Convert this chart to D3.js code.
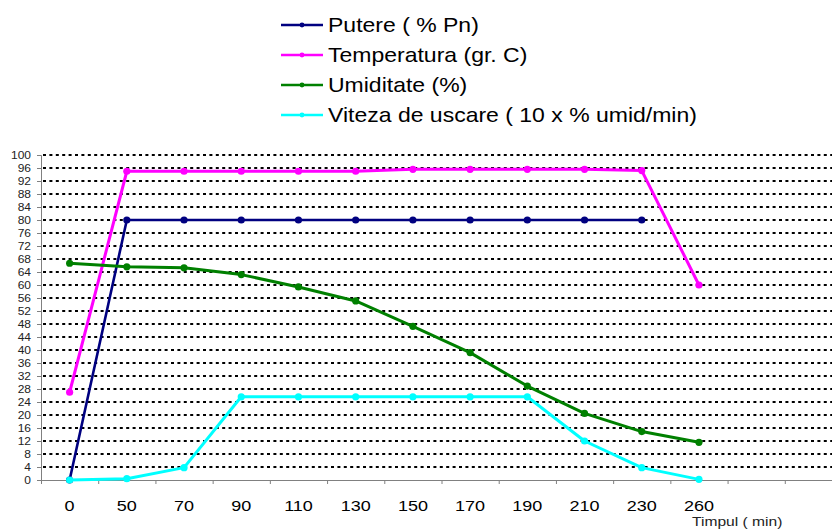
<!DOCTYPE html>
<html>
<head>
<meta charset="utf-8">
<script src="https://cdn.jsdelivr.net/npm/d3@7"></script>
<style>
  html, body { margin: 0; padding: 0; background: #fff; }
  svg { display: block; font-family: "Liberation Sans", Arial, sans-serif; }
</style>
</head>
<body>
<svg id="chart" width="832" height="529"></svg>
<script>
// Drying process: time (min) on the category axis
const categories = ["0", "50", "70", "90", "110", "130", "150", "170", "190", "210", "230", "260"];
const emptySlots = 2; // the axis continues with two unlabelled categories

const putere      = [0, 80, 80, 80, 80, 80, 80, 80, 80, 80, 80, null];
const temperatura = [27, 95, 95, 95, 95, 95, 95.6, 95.6, 95.6, 95.6, 95.2, 60];
const umiditate   = [66.7, 65.6, 65.3, 63.2, 59.4, 55.1, 47.3, 39.2, 28.9, 20.5, 14.9, 11.6];
const viteza      = [0, 0.4, 3.8, 25.6, 25.6, 25.6, 25.6, 25.6, 25.6, 12, 3.8, 0.2];

const seriesNames  = ["Putere ( % Pn)", "Temperatura (gr. C)", "Umiditate (%)", "Viteza de uscare ( 10 x % umid/min)"];
const seriesColors = ["#000080", "#ff00ff", "#008000", "#00ffff"];

const yTicks = d3.range(0, 101, 4);
const xTitle = "Timpul ( min)";

const svg = d3.select("#chart");
const W = 832;

const plotLeft = 41, plotRight = 842, plotTop = 155, plotBottom = 480;
const nSlots = categories.length + emptySlots;

const x = d3.scaleBand().domain(d3.range(nSlots)).range([plotLeft, plotRight]).padding(0);
const xEdge = d3.scaleLinear().domain([0, nSlots]).range([plotLeft, plotRight]);
const y = d3.scaleLinear().domain([0, 100]).range([plotBottom, plotTop]);

// dotted horizontal gridlines
svg.append("g")
  .selectAll("line")
  .data(yTicks.filter(v => v > 0))
  .join("line")
  .attr("x1", plotLeft + 2).attr("x2", W + 20)
  .attr("y1", d => y(d)).attr("y2", d => y(d))
  .attr("stroke", "#000")
  .attr("stroke-width", 2)
  .attr("stroke-dasharray", "3,3.4");

// y axis
const yAxis = svg.append("g")
  .attr("transform", `translate(${plotLeft},0)`)
  .call(d3.axisLeft(y).tickValues(yTicks).tickSize(4).tickPadding(6));
yAxis.select(".domain").attr("stroke", "#808080");
yAxis.selectAll(".tick line").attr("stroke", "#808080");
yAxis.selectAll(".tick text")
  .attr("x", -10 / 1.2)
  .attr("transform", "scale(1.2,1)")
  .attr("fill", "#222")
  .style("font-size", "10px");

// x axis: category boundary ticks
const xTicks = svg.append("g")
  .attr("transform", `translate(0,${plotBottom})`)
  .call(d3.axisBottom(xEdge).tickValues(d3.range(0, nSlots + 1)).tickFormat("").tickSize(4).tickSizeOuter(0));
xTicks.select(".domain").attr("stroke", "#808080");
xTicks.selectAll(".tick line").attr("stroke", "#808080");

// x axis: category labels centred in their slots
const xLabels = svg.append("g")
  .attr("transform", `translate(0,${plotBottom})`)
  .call(d3.axisBottom(x).tickSize(0).tickPadding(0).tickFormat(i => categories[i] || ""));
xLabels.select(".domain").remove();
xLabels.selectAll(".tick text")
  .attr("y", 0)
  .attr("dy", 0)
  .attr("transform", "translate(0,30.5) scale(1.2,1)")
  .attr("fill", "#000")
  .style("font-size", "15px");

svg.append("text")
  .attr("transform", "translate(692,526) scale(1.2,1)")
  .attr("fill", "#222")
  .style("font-size", "13px")
  .text(xTitle);

// series
const allSeries = [putere, temperatura, umiditate, viteza];
const line = d3.line()
  .defined(d => d != null)
  .x((d, i) => x(i) + x.bandwidth() / 2)
  .y(d => y(d));

const plot = svg.append("g");
allSeries.forEach((vals, s) => {
  plot.append("path")
    .datum(vals)
    .attr("fill", "none")
    .attr("stroke", seriesColors[s])
    .attr("stroke-width", s === 0 ? 2.6 : 3)
    .attr("stroke-linejoin", "round")
    .attr("d", line);
  plot.append("g")
    .selectAll("circle")
    .data(vals.map((v, i) => ({ v, i })).filter(d => d.v != null))
    .join("circle")
    .attr("cx", d => x(d.i) + x.bandwidth() / 2)
    .attr("cy", d => y(d.v))
    .attr("r", 3.6)
    .attr("fill", seriesColors[s]);
});

// legend
const legendY = d3.scaleLinear().domain([0, 3]).range([25, 115]);
const legend = svg.append("g");
seriesNames.forEach((name, s) => {
  const ly = legendY(s);
  legend.append("line")
    .attr("x1", 281).attr("x2", 323)
    .attr("y1", ly).attr("y2", ly)
    .attr("stroke", seriesColors[s])
    .attr("stroke-width", 2.6);
  legend.append("circle")
    .attr("cx", 302).attr("cy", ly).attr("r", 2.4)
    .attr("fill", seriesColors[s]);
  legend.append("text")
    .attr("transform", `translate(328,${ly + 7}) scale(1.15,1)`)
    .attr("fill", "#000")
    .style("font-size", "20px")
    .text(name);
});
</script>
</body>
</html>
